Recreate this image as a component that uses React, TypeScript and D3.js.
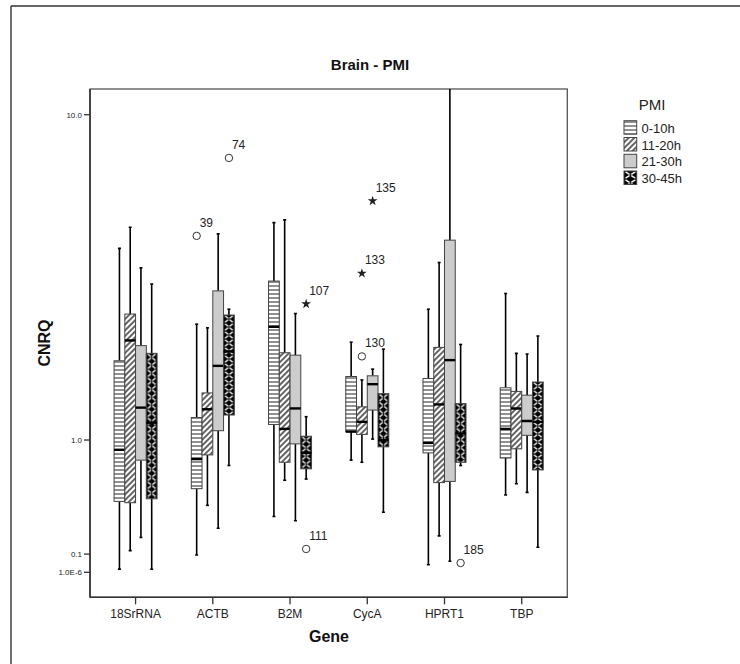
import React from "react";
import * as d3 from "d3";

// Genes on the x axis and PMI groups within each gene
const genes = ["18SrRNA", "ACTB", "B2M", "CycA", "HPRT1", "TBP"];
const groups = ["0-10h", "11-20h", "21-30h", "30-45h"];

// Box statistics per gene: [lower whisker, Q1, median, Q3, upper whisker]
const pmi0to10 = [
  [0.017, 0.45, 0.9, 2.03, 4.46],
  [0.095, 0.55, 0.81, 1.25, 2.67],
  [0.34, 1.17, 2.62, 3.6, 5.25],
  [0.8, 1.09, 1.09, 1.79, 2.34],
  [0.04, 0.87, 0.97, 1.76, 2.97],
  [0.5, 0.82, 1.12, 1.63, 3.31],
];
const pmi11to20 = [
  [0.12, 0.44, 2.37, 2.87, 5.1],
  [0.42, 0.85, 1.35, 1.56, 2.6],
  [0.62, 0.78, 1.12, 2.16, 5.34],
  [0.78, 1.06, 1.2, 1.38, 1.74],
  [0.21, 0.6, 1.41, 2.25, 4.07],
  [0.59, 0.91, 1.36, 1.58, 2.15],
];
const pmi21to30 = [
  [0.2, 0.8, 1.37, 2.28, 3.93],
  [0.26, 1.1, 1.95, 3.37, 4.89],
  [0.31, 0.96, 1.36, 2.12, 2.88],
  [1.01, 1.34, 1.68, 1.8, 1.9],
  [0.06, 0.61, 2.04, 4.7, 14.0],
  [0.52, 1.05, 1.21, 1.53, 2.14],
];
const pmi30to45 = [
  [0.016, 0.47, 1.19, 2.15, 3.53],
  [0.75, 1.28, 2.18, 2.85, 2.97],
  [0.63, 0.72, 0.87, 1.04, 1.26],
  [0.37, 0.93, 1.0, 1.55, 2.22],
  [0.75, 0.78, 1.07, 1.42, 2.3],
  [0.14, 0.71, 1.2, 1.71, 2.45],
];
const seriesStats = [pmi0to10, pmi11to20, pmi21to30, pmi30to45];

// Flagged cases: o = outlier, * = extreme value
const outlierGene = ["ACTB", "ACTB", "B2M", "B2M", "CycA", "CycA", "CycA", "HPRT1"];
const outlierGroup = ["0-10h", "30-45h", "30-45h", "30-45h", "21-30h", "11-20h", "11-20h", "30-45h"];
const outlierValue = [4.83, 7.77, 3.08, 0.13, 6.0, 3.79, 2.1, 0.05];
const outlierCase = ["39", "74", "107", "111", "135", "133", "130", "185"];
const outlierKind = ["o", "o", "*", "o", "*", "*", "o", "o"];

const yTickValues = [1e-6, 0.1, 1, 10];
const yTickLabels = ["1.0E-6", "0.1", "1.0", "10.0"];

const W = 740;
const H = 664;
const plot = { left: 90, right: 567.3, top: 89, bottom: 597.3 };
const FONT = "'Liberation Sans', Arial, Helvetica, sans-serif";

// CNRQ axis: logarithmic in (value + 1)
const y = d3.scaleSymlog().constant(1).domain([0, 10]).range([572.3, 114.7]);
const x = d3.scalePoint().domain(genes).range([plot.left, plot.right]).padding(0.59);
const offset = d3.scaleBand().domain(groups).range([-21.5, 21.5]);
const bw = offset.bandwidth();

const fills = ["url(#hstripe)", "url(#diag)", "#cccccc", null];

function crossPattern(id: string, x0: number, y0: number, w: number) {
  const h = 8;
  return (
    <pattern key={id} id={id} patternUnits="userSpaceOnUse" x={x0} y={y0} width={w} height={h}>
      <rect width={w} height={h} fill="#000" />
      <path
        d={`M1.5,0.8 Q${w / 2},${h / 2} ${w - 1.5},${h - 0.8} M${w - 1.5},0.8 Q${w / 2},${h / 2} 1.5,${h - 0.8}`}
        stroke="#fff"
        strokeWidth={1.4}
        fill="none"
      />
      <circle cx={w / 2} cy={h / 2} r={1.1} fill="#000" />
    </pattern>
  );
}

export default function App() {
  const crossDefs: React.ReactNode[] = [];
  const boxes: React.ReactNode[] = [];

  genes.forEach((g, gi) => {
    groups.forEach((grp, si) => {
      const [lo, q1, med, q3, hi] = seriesStats[si][gi];
      const cx = (x(g) as number) + (offset(grp) as number) + bw / 2;
      const x0 = cx - bw / 2;
      const yTop = y(q3);
      const yBot = y(q1);
      let fill = fills[si];
      if (fill === null) {
        const pid = `cross-${gi}`;
        crossDefs.push(crossPattern(pid, x0, yTop, bw));
        fill = `url(#${pid})`;
      }
      boxes.push(
        <g key={`${g}-${grp}`}>
          <line x1={cx} x2={cx} y1={y(hi)} y2={yTop} stroke="#000" strokeWidth={1.6} />
          <line x1={cx} x2={cx} y1={yBot} y2={y(lo)} stroke="#000" strokeWidth={1.6} />
          <line x1={cx - 1.5} x2={cx + 1.5} y1={y(hi)} y2={y(hi)} stroke="#000" strokeWidth={1.6} />
          <line x1={cx - 1.5} x2={cx + 1.5} y1={y(lo)} y2={y(lo)} stroke="#000" strokeWidth={1.6} />
          <rect x={x0} y={yTop} width={bw} height={yBot - yTop} fill={fill} stroke="#444" strokeWidth={1} />
          <line x1={x0} x2={x0 + bw} y1={y(med)} y2={y(med)} stroke="#000" strokeWidth={2.4} />
        </g>
      );
    });
  });

  const star = d3.symbol().type(d3.symbolStar).size(30)() as string;

  const outliers = outlierValue.map((v, i) => {
    const cx = (x(outlierGene[i]) as number) + (offset(outlierGroup[i]) as number) + bw / 2;
    const cy = y(v);
    return (
      <g key={outlierCase[i]}>
        {outlierKind[i] === "o" ? (
          <circle cx={cx} cy={cy} r={3.7} fill="none" stroke="#333" strokeWidth={1} />
        ) : (
          <path d={star} transform={`translate(${cx},${cy})`} fill="#222" />
        )}
        <text x={cx + 3} y={cy - 9} fontSize={12} fontFamily={FONT} fill="#222">
          {outlierCase[i]}
        </text>
      </g>
    );
  });

  const legendX = 624;
  const legendY = [120.7, 137.5, 154.3, 171];

  return (
    <svg width={W} height={H} style={{ position: "absolute", left: 0, top: 0, background: "#fff" }}>
      <defs>
        <pattern id="hstripe" patternUnits="userSpaceOnUse" width={4} height={4}>
          <rect width={4} height={4} fill="#fff" />
          <line x1={0} x2={4} y1={2} y2={2} stroke="#555" strokeWidth={1.3} />
        </pattern>
        <pattern id="diag" patternUnits="userSpaceOnUse" width={4} height={4} patternTransform="rotate(45)">
          <rect width={4} height={4} fill="#fff" />
          <line x1={2} x2={2} y1={0} y2={4} stroke="#222" strokeWidth={1.4} />
        </pattern>
        {crossDefs}
        {crossPattern("cross-legend", legendX, legendY[3], 12.7)}
        <clipPath id="plot-clip">
          <rect x={plot.left} y={plot.top} width={plot.right - plot.left} height={plot.bottom - plot.top} />
        </clipPath>
      </defs>

      <rect width={W} height={H} fill="#fff" />
      <line x1={11} x2={W} y1={6} y2={6} stroke="#333" strokeWidth={1.4} />
      <line x1={11} x2={11} y1={6} y2={H} stroke="#333" strokeWidth={1.4} />

      <text x={370} y={70} textAnchor="middle" fontSize={15} fontWeight="bold" fontFamily={FONT} fill="#111">
        Brain - PMI
      </text>

      <rect
        x={plot.left}
        y={plot.top}
        width={plot.right - plot.left}
        height={plot.bottom - plot.top}
        fill="#fff"
        stroke="#555"
        strokeWidth={1.3}
      />
      <line x1={plot.left} x2={plot.left} y1={plot.top} y2={plot.bottom} stroke="#333" strokeWidth={1.6} />
      <line x1={plot.left} x2={plot.right} y1={plot.bottom} y2={plot.bottom} stroke="#333" strokeWidth={1.6} />

      {yTickValues.map((v, i) => (
        <g key={yTickLabels[i]}>
          <line x1={plot.left - 6} x2={plot.left} y1={y(v)} y2={y(v)} stroke="#333" strokeWidth={1.3} />
          <text x={plot.left - 8} y={y(v) + 3} textAnchor="end" fontSize={8} fontFamily={FONT} fill="#222">
            {yTickLabels[i]}
          </text>
        </g>
      ))}

      {genes.map((g) => (
        <g key={g}>
          <line x1={x(g)} x2={x(g)} y1={plot.bottom} y2={plot.bottom + 7} stroke="#333" strokeWidth={1.3} />
          <text x={x(g)} y={618} textAnchor="middle" fontSize={12} fontFamily={FONT} fill="#222">
            {g}
          </text>
        </g>
      ))}

      <g clipPath="url(#plot-clip)">
        {boxes}
        {outliers}
      </g>

      <text x={329} y={642} textAnchor="middle" fontSize={16} fontWeight="bold" fontFamily={FONT} fill="#111">
        Gene
      </text>
      <text
        transform="translate(50,343) rotate(-90)"
        textAnchor="middle"
        fontSize={16}
        fontWeight="bold"
        fontFamily={FONT}
        fill="#111"
      >
        CNRQ
      </text>

      <text x={652} y={110} textAnchor="middle" fontSize={15} fontFamily={FONT} fill="#222">
        PMI
      </text>
      {groups.map((grp, i) => (
        <g key={grp}>
          <rect
            x={legendX}
            y={legendY[i]}
            width={12.7}
            height={13.5}
            fill={i === 3 ? "url(#cross-legend)" : (fills[i] as string)}
            stroke="#444"
            strokeWidth={1}
          />
          <text x={641.5} y={legendY[i] + 12} fontSize={13} fontFamily={FONT} fill="#222">
            {grp}
          </text>
        </g>
      ))}
    </svg>
  );
}
